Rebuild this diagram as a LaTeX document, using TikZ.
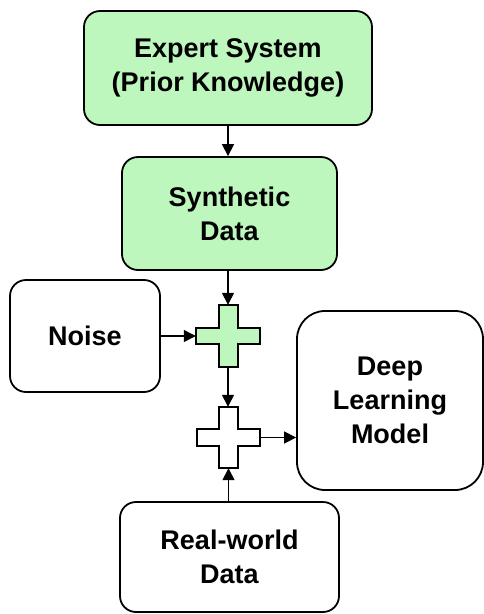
\documentclass[tikz,border=0pt]{standalone}
\usepackage{fontspec}
\setmainfont{Liberation Sans}
\usetikzlibrary{arrows.meta}
\definecolor{lgreen}{HTML}{BDF7BD}
\begin{document}
\begin{tikzpicture}[x=1pt,y=-1pt,
  box/.style={draw=black, line width=1.8pt, rounded corners=16pt, align=center,
    font=\fontsize{27}{34}\selectfont\bfseries, inner sep=0pt},
  gbox/.style={box, fill=lgreen},
  wbox/.style={box, fill=white},
  conn/.style={line width=1.4pt, -{Triangle[length=12pt,width=12pt]}},
  plusshape/.style={draw=black, line width=1.8pt}]
\useasboundingbox (0,0) rectangle (484,614);
\node[gbox, minimum width=288pt, minimum height=114pt] (expert) at (228,68) {Expert System\\(Prior Knowledge)};
\node[gbox, minimum width=215pt, minimum height=113pt] (synth) at (229.5,213.5) {Synthetic\\Data};
\node[wbox, minimum width=150pt, minimum height=112pt] (noise) at (85,336) {Noise};
\node[wbox, minimum width=219pt, minimum height=110pt] (real) at (229.5,557) {Real-world\\Data};
\node[wbox, rounded corners=28pt, minimum width=186pt, minimum height=179pt] (dl) at (390,400.5) {Deep\\Learning\\Model};
% plus shapes
\node[minimum width=64pt, minimum height=62pt, inner sep=0pt] (p1) at (228,336) {};
\node[minimum width=63pt, minimum height=61pt, inner sep=0pt] (p2) at (228.5,437.5) {};
\draw[plusshape, fill=lgreen] (219,305) -- (238,305) -- (238,328) -- (260,328) -- (260,344) -- (238,344) -- (238,367) -- (219,367) -- (219,344) -- (196,344) -- (196,328) -- (219,328) -- cycle;
\draw[plusshape, fill=white] (219,407) -- (238,407) -- (238,429) -- (260,429) -- (260,446) -- (238,446) -- (238,468) -- (219,468) -- (219,446) -- (197,446) -- (197,429) -- (219,429) -- cycle;
\draw[conn] (expert.south) -- (expert.south |- synth.north);
\draw[conn] (synth.south -| p1.north) -- (p1.north);
\draw[conn] (noise.east |- p1.west) -- (p1.west);
\draw[conn] (p1.south) -- (p2.north -| p1.south);
\draw[conn] (p2.east) -- (dl.west |- p2.east);
\draw[conn] (real.north -| p2.south) -- (p2.south);
\end{tikzpicture}
\end{document}
